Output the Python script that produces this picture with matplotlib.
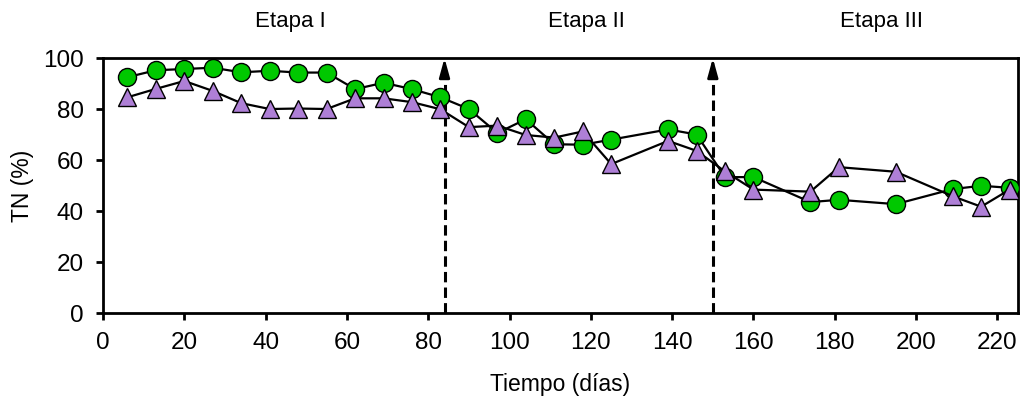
import matplotlib
matplotlib.use("Agg")
import matplotlib.pyplot as plt

plt.rcParams['font.family'] = ['Liberation Sans', 'DejaVu Sans']

# days and TN removal (%) for the two series
dias_circ = [6, 13, 20, 27, 34, 41, 48, 55, 62, 69, 76, 83,
             90, 97, 104, 111, 118, 125, 139, 146,
             153, 160, 174, 181, 195, 209, 216, 223]
tn_circ = [92.5, 95.2, 95.7, 96.2, 94.4, 95.0, 94.3, 94.3, 87.8, 90.3, 87.8, 84.6,
           80.0, 70.6, 76.0, 66.2, 66.0, 68.0, 72.0, 70.0,
           53.3, 53.3, 43.5, 44.4, 42.7, 48.6, 49.9, 49.1]

dias_tri = dias_circ
tn_tri = [84.6, 87.9, 91.0, 87.1, 82.3, 80.0, 80.2, 80.0, 84.2, 84.2, 82.7, 79.9,
          72.9, 73.5, 69.8, 68.8, 71.2, 58.4, 67.5, 63.6,
          55.5, 48.4, 47.6, 57.2, 55.4, 45.8, 41.7, 48.4]

etapas = ["Etapa I", "Etapa II", "Etapa III"]
etapa_x = [46, 119, 191.5]
cambios = [84, 150]

fig = plt.figure(figsize=(10.27, 4.03), dpi=100)
ax = fig.add_axes([0.1003, 0.2233, 0.8907, 0.6327])

ax.plot(dias_circ, tn_circ, color="black", lw=1.6, marker="o", ms=13,
        mfc="#00C800", mec="black", mew=1.0, zorder=3)
ax.plot(dias_tri, tn_tri, color="black", lw=1.6, marker="^", ms=13.5,
        mfc="#AE7FD6", mec="black", mew=1.0, zorder=4)

# stage changes: dashed line with a solid arrow head at the top
for c in cambios:
    ax.plot([c, c], [0, 96], color="black", lw=2.2, ls=(0, (3.4, 1.7)), zorder=2)
    ax.annotate("", xy=(c, 100), xytext=(c, 95),
                arrowprops=dict(arrowstyle="-|>,head_length=0.8,head_width=0.22",
                                color="black", lw=2.0, mutation_scale=14,
                                shrinkA=0, shrinkB=0), zorder=2)

for lab, xe in zip(etapas, etapa_x):
    ax.text(xe, 112, lab, ha="center", va="baseline", fontsize=16)

ax.set_xlim(0, 225)
ax.set_ylim(0, 100)
ax.set_xticks(range(0, 221, 20))
ax.set_yticks(range(0, 101, 20))
for s in ax.spines.values():
    s.set_linewidth(2)
ax.tick_params(direction="out", length=5, width=2, labelsize=17.5, pad=9)
ax.set_xlabel("Tiempo (días)", fontsize=16.5)
ax.set_ylabel("TN (%)", fontsize=16.5)
ax.xaxis.set_label_coords(0.5, -0.235)
ax.yaxis.set_label_coords(-0.075, 0.5)

fig.savefig("out.png", dpi=100)
